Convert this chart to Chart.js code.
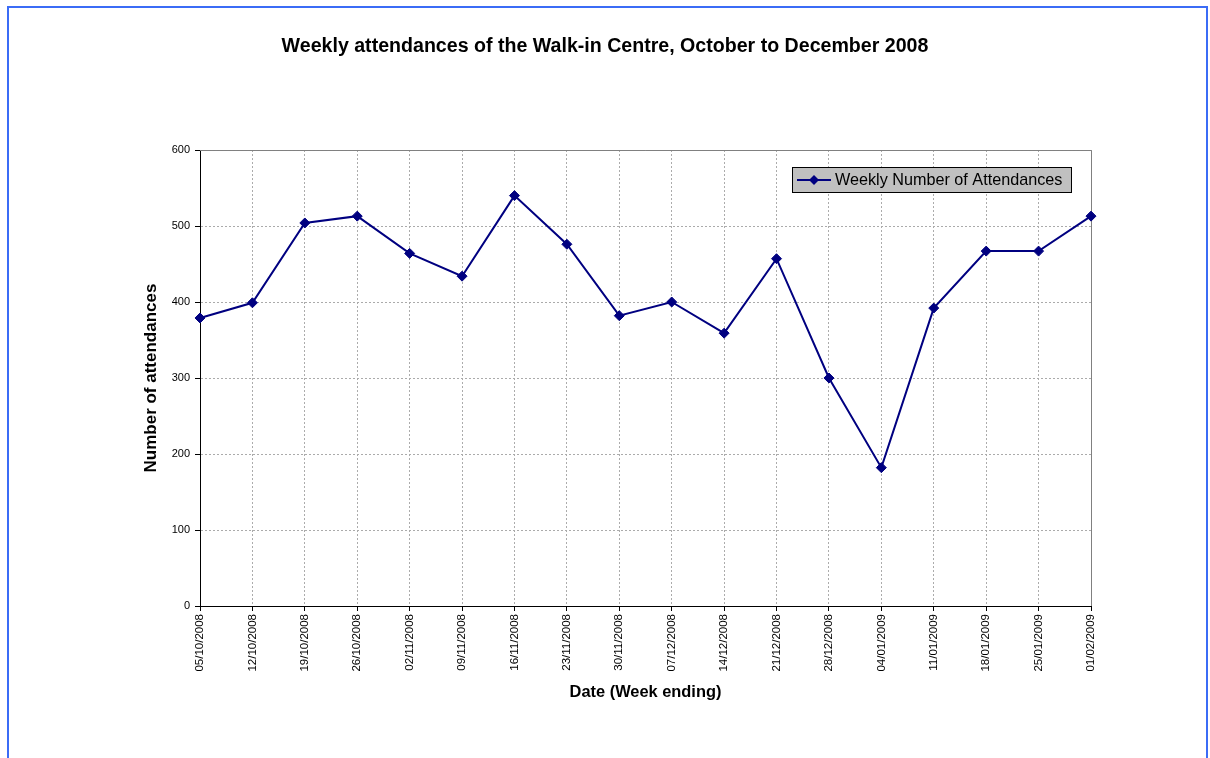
<!DOCTYPE html>
<html>
<head>
<meta charset="utf-8">
<script src="https://cdn.jsdelivr.net/npm/chart.js@4"></script>
<style>
  html, body { margin: 0; padding: 0; background: #fff; overflow: hidden; }
  #wrap { position: relative; width: 1210px; height: 758px; }
  #frame { position: absolute; left: 7px; top: 6px; width: 1197px; height: 800px;
           border: 2px solid #3b6cf6; border-bottom: none; pointer-events: none; }
  canvas { position: absolute; left: 0; top: 0; }
</style>
</head>
<body>
<div id="wrap">
  <canvas id="c" width="1210" height="758"></canvas>
  <div id="frame"></div>
</div>
<script>
const weekEnding = ["05/10/2008","12/10/2008","19/10/2008","26/10/2008","02/11/2008","09/11/2008",
  "16/11/2008","23/11/2008","30/11/2008","07/12/2008","14/12/2008","21/12/2008","28/12/2008",
  "04/01/2009","11/01/2009","18/01/2009","25/01/2009","01/02/2009"];
const attendances = [379, 399, 504, 513, 464, 434, 540, 476, 382, 400, 359, 457, 300, 182, 392, 467, 467, 513];
const seriesName = "Weekly Number of Attendances";
const chartTitle = "Weekly attendances of the Walk-in Centre, October to December 2008";
const yTitle = "Number of attendances";
const xTitle = "Date (Week ending)";

const NAVY = '#000080';
const FONT = '"Liberation Sans", Arial, sans-serif';

const framePlugin = {
  id: 'framePlugin',
  beforeDatasetsDraw(chart) {
    const {ctx, chartArea: a} = chart;
    ctx.save();
    ctx.strokeStyle = '#808080';
    ctx.lineWidth = 1;
    ctx.setLineDash([]);
    ctx.beginPath();
    ctx.moveTo(a.left, a.top + 0.5);
    ctx.lineTo(a.right + 0.5, a.top + 0.5);
    ctx.lineTo(a.right + 0.5, a.bottom);
    ctx.stroke();
    ctx.restore();
  },
  afterDraw(chart) {
    const {ctx} = chart;
    const ds = chart.data.datasets[0];
    ctx.save();
    const x0 = 792, y0 = 167, w = 279, h = 25;
    ctx.fillStyle = '#c0c0c0';
    ctx.fillRect(x0, y0, w, h);
    ctx.strokeStyle = '#000';
    ctx.lineWidth = 1;
    ctx.strokeRect(x0 + 0.5, y0 + 0.5, w, h);
    const cy = y0 + h / 2 + 0.5;
    ctx.strokeStyle = NAVY;
    ctx.lineWidth = 2;
    ctx.beginPath();
    ctx.moveTo(797, cy);
    ctx.lineTo(831, cy);
    ctx.stroke();
    ctx.fillStyle = NAVY;
    ctx.beginPath();
    ctx.moveTo(814, cy - 5);
    ctx.lineTo(819, cy);
    ctx.lineTo(814, cy + 5);
    ctx.lineTo(809, cy);
    ctx.closePath();
    ctx.fill();
    ctx.fillStyle = '#000';
    ctx.font = '16.2px ' + FONT;
    ctx.textBaseline = 'middle';
    ctx.textAlign = 'left';
    ctx.fillText(ds.label, 835, cy + 1);
    ctx.restore();
  }
};

new Chart(document.getElementById('c'), {
  type: 'line',
  data: {
    labels: weekEnding,
    datasets: [{
      label: seriesName,
      data: attendances,
      borderColor: NAVY,
      backgroundColor: NAVY,
      borderWidth: 2,
      pointStyle: 'rectRot',
      pointRadius: 5,
      pointBackgroundColor: NAVY,
      pointBorderColor: NAVY,
      pointBorderWidth: 1,
      tension: 0,
      fill: false
    }]
  },
  options: {
    responsive: false,
    animation: false,
    devicePixelRatio: 1,
    layout: { padding: { left: 0, right: 0, top: 0, bottom: 0 } },
    plugins: {
      legend: { display: false },
      tooltip: { enabled: false },
      title: {
        display: true,
        text: chartTitle,
        color: '#000',
        font: { family: FONT, size: 19.6, weight: 'bold' },
        padding: { top: 35, bottom: 91.5 }
      }
    },
    scales: {
      x: {
        type: 'category',
        offset: false,
        grid: {
          color: '#ababab',
          lineWidth: 1,
          drawTicks: true,
          tickLength: 5,
          tickColor: '#000',
          tickWidth: 1,
          tickBorderDash: []
        },
        border: { display: true, color: '#000', width: 1, dash: [2, 2] },
        ticks: {
          autoSkip: false,
          maxRotation: 90,
          minRotation: 90,
          padding: 3,
          color: '#000',
          font: { family: FONT, size: 11.5 }
        },
        title: {
          display: true,
          text: xTitle,
          color: '#000',
          font: { family: FONT, size: 16.4, weight: 'bold' },
          padding: { top: 0, bottom: 55.2 }
        },
        afterFit(s) { s.height = 152; }
      },
      y: {
        type: 'linear',
        position: 'left',
        min: 0,
        max: 600,
        ticks: {
          stepSize: 100,
          padding: 5,
          color: '#000',
          font: { family: FONT, size: 11 }
        },
        grid: {
          color: '#ababab',
          lineWidth: 1,
          drawTicks: true,
          tickLength: 5,
          tickColor: '#000',
          tickWidth: 1,
          tickBorderDash: []
        },
        border: { display: true, color: '#000', width: 1, dash: [2, 2] },
        title: {
          display: true,
          text: yTitle,
          color: '#000',
          font: { family: FONT, size: 17, weight: 'bold' },
          padding: { top: 140.8, bottom: 0 }
        },
        afterFit(s) { s.width = 200; }
      },
      yRight: {
        type: 'linear',
        position: 'right',
        display: true,
        ticks: { display: false },
        grid: { drawOnChartArea: false, drawTicks: false },
        border: { display: false },
        afterFit(s) { s.width = 119; }
      }
    }
  },
  plugins: [framePlugin]
});
</script>
</body>
</html>
